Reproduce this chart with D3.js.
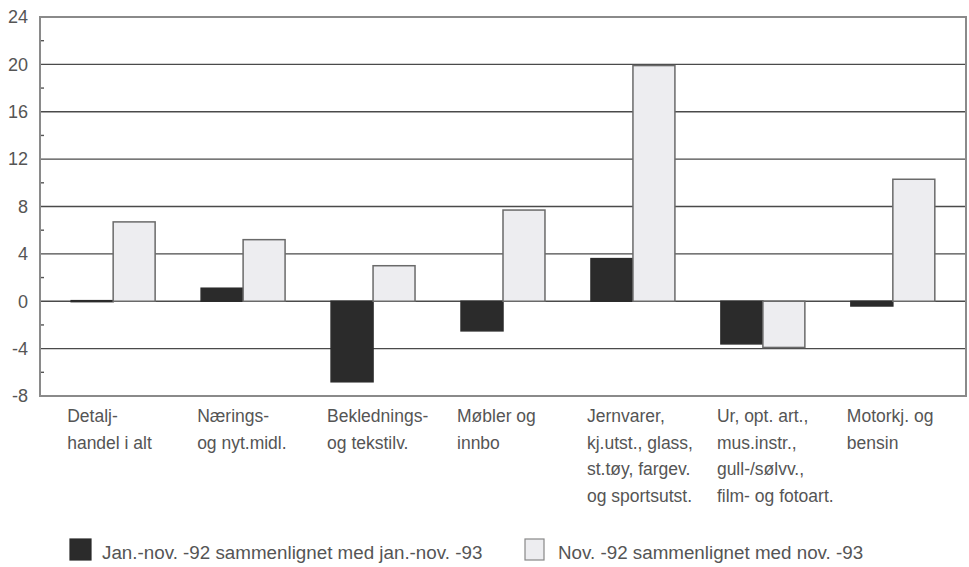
<!DOCTYPE html>
<html>
  <head>
    <meta charset="utf-8">
    <title>Detaljhandel endring</title>
    <script src="https://cdn.jsdelivr.net/npm/d3@7"></script>
    <style>
      body { margin: 0; background: #fff; }
      svg text {
        font-family: "Liberation Sans", Arial, sans-serif;
        fill: #555;
      }
    </style>
  </head>

  <body>
    <svg id="chart" width="969" height="567"></svg>

    <script>
      // data
      var categories = [
        ["Detalj-", "handel i alt"],
        ["Nærings-", "og nyt.midl."],
        ["Beklednings-", "og tekstilv."],
        ["Møbler og", "innbo"],
        ["Jernvarer,", "kj.utst., glass,", "st.tøy, fargev.", "og sportsutst."],
        ["Ur, opt. art.,", "mus.instr.,", "gull-/sølvv.,", "film- og fotoart."],
        ["Motorkj. og", "bensin"]
      ];
      var seriesNames = [
        "Jan.-nov. -92 sammenlignet med jan.-nov. -93",
        "Nov. -92 sammenlignet med nov. -93"
      ];
      var janNov = [0.05, 1.1, -6.8, -2.5, 3.6, -3.6, -0.4];
      var nov = [6.7, 5.2, 3.0, 7.7, 19.9, -3.9, 10.3];
      var yTicks = [-8, -4, 0, 4, 8, 12, 16, 20, 24];
      var yMinorTicks = [-6, -2, 2, 6, 10, 14, 18, 22];

      var colours = ["#2b2b2b", "#ededf0"];

      // dimensions
      var plotLeft = 40, plotRight = 966, plotTop = 17, plotBottom = 396;

      var chart = d3.select("#chart");

      var x0 = d3.scaleBand()
        .domain(d3.range(categories.length))
        .range([plotLeft, plotRight])
        .paddingInner(0.354)
        .paddingOuter(0.24);

      var x1 = d3.scaleBand()
        .domain([0, 1])
        .range([0, x0.bandwidth()]);

      var y = d3.scaleLinear()
        .domain([-8, 24])
        .range([plotBottom, plotTop]);

      // grid
      chart.append("g")
        .selectAll("line")
          .data(yTicks.filter(function(d) { return d > -8 && d < 24; }))
        .enter().append("line")
          .attr("x1", plotLeft)
          .attr("x2", plotRight)
          .attr("y1", function(d) { return y(d); })
          .attr("y2", function(d) { return y(d); })
          .attr("stroke", "#4a4a4a")
          .attr("stroke-width", 1.4);

      // y axis labels (plain hyphen for negatives, as in the original)
      var yAxis = d3.axisLeft(y)
        .tickValues(yTicks)
        .tickFormat(function(d) { return String(d); })
        .tickSize(0)
        .tickPadding(12);

      var yG = chart.append("g")
        .attr("transform", "translate(" + plotLeft + ",0)")
        .call(yAxis);
      yG.select(".domain").remove();
      yG.attr("font-family", null);
      yG.selectAll("text")
        .style("font-size", "18px")
        .attr("fill", "#555");

      // minor ticks
      chart.append("g")
        .selectAll("line")
          .data(yMinorTicks)
        .enter().append("line")
          .attr("x1", plotLeft)
          .attr("x2", plotLeft + 4)
          .attr("y1", function(d) { return y(d); })
          .attr("y2", function(d) { return y(d); })
          .attr("stroke", "#555")
          .attr("stroke-width", 1.4);

      // bars
      var rows = categories.map(function(c, i) {
        return [janNov[i], nov[i]];
      });

      var groups = chart.append("g")
        .selectAll("g")
          .data(rows)
        .enter().append("g")
          .attr("transform", function(d, i) { return "translate(" + x0(i) + ",0)"; });

      groups.selectAll("rect")
          .data(function(d) { return d; })
        .enter().append("rect")
          .attr("x", function(d, j) { return x1(j); })
          .attr("width", x1.bandwidth())
          .attr("y", function(d) { return y(Math.max(0, d)); })
          .attr("height", function(d) { return Math.max(1, Math.abs(y(d) - y(0))); })
          .attr("fill", function(d, j) { return colours[j]; })
          .attr("stroke", function(d, j) { return j === 0 ? "#2b2b2b" : "#6a6a6a"; })
          .attr("stroke-width", 1.5);

      // frame
      chart.append("rect")
        .attr("x", plotLeft)
        .attr("y", plotTop)
        .attr("width", plotRight - plotLeft)
        .attr("height", plotBottom - plotTop)
        .attr("fill", "none")
        .attr("stroke", "#8a8a8a")
        .attr("stroke-width", 2);

      // category labels
      var labels = chart.append("g")
        .selectAll("text")
          .data(categories)
        .enter().append("text")
          .attr("x", function(d, i) { return x0(i) - 4; })
          .attr("y", 422)
          .style("font-size", "17.5px");

      labels.selectAll("tspan")
          .data(function(d) { return d; })
        .enter().append("tspan")
          .attr("x", function() { return d3.select(this.parentNode).attr("x"); })
          .attr("dy", function(d, k) { return k === 0 ? 0 : 26.5; })
          .text(function(d) { return d; });

      // legend
      var legendX = [70, 525];
      var legend = chart.append("g")
        .selectAll("g")
          .data(seriesNames)
        .enter().append("g")
          .attr("transform", function(d, i) { return "translate(" + legendX[i] + ",539)"; });

      legend.append("rect")
        .attr("width", function(d, i) { return i === 0 ? 21 : 19; })
        .attr("height", 21)
        .attr("fill", function(d, i) { return colours[i]; })
        .attr("stroke", function(d, i) { return i === 0 ? "#2b2b2b" : "#888"; })
        .attr("stroke-width", 1.2);

      legend.append("text")
        .attr("x", function(d, i) { return i === 0 ? 32 : 33; })
        .attr("y", 20)
        .style("font-size", "18.8px")
        .text(function(d) { return d; });
    </script>
  </body>
</html>
